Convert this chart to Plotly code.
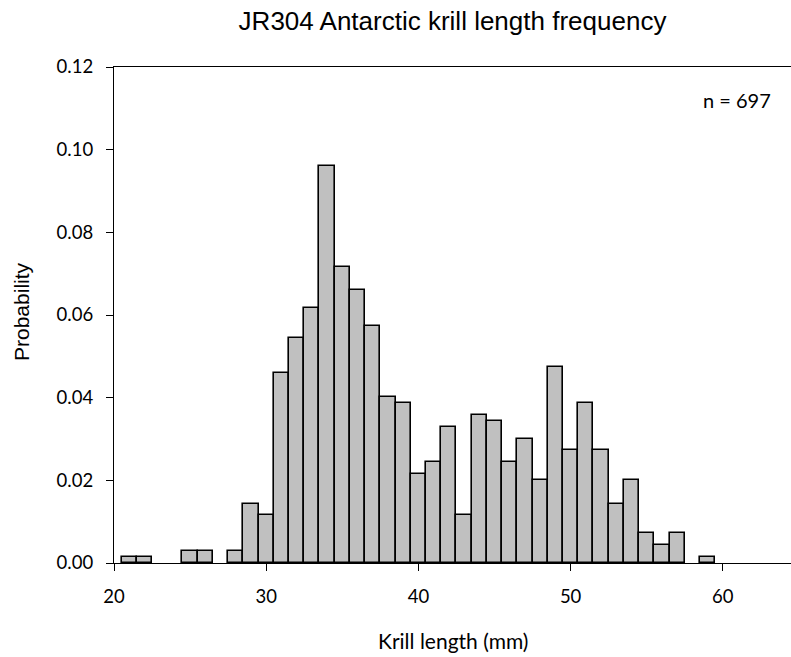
import plotly.graph_objects as go

# Krill length bins (mm, bin centres) and probability (n = 697)
lengths = [21, 22, 25, 26, 28, 29, 30, 31, 32, 33, 34, 35, 36, 37, 38, 39, 40,
           41, 42, 43, 44, 45, 46, 47, 48, 49, 50, 51, 52, 53, 54, 55, 56, 57, 59]
probability = [0.0014, 0.0014, 0.0029, 0.0029, 0.0029, 0.0143, 0.0115, 0.0459,
               0.0545, 0.0617, 0.0961, 0.0717, 0.0660, 0.0574, 0.0402, 0.0387,
               0.0215, 0.0244, 0.0330, 0.0115, 0.0359, 0.0344, 0.0244, 0.0301,
               0.0201, 0.0473, 0.0273, 0.0387, 0.0273, 0.0143, 0.0201, 0.0072,
               0.0043, 0.0072, 0.0014]
x_ticks = [20, 30, 40, 50, 60]
y_ticks = [0.00, 0.02, 0.04, 0.06, 0.08, 0.10, 0.12]
title_text = "JR304 Antarctic krill length frequency"
x_title = "Krill length (mm)"
y_title = "Probability"
n_label = "n = 697"

W, H = 791, 657
L, R, T, B = 114, 0, 67, 94

fig = go.Figure(go.Bar(
    x=lengths, y=probability, width=1,
    marker=dict(color="#c0c0c0", line=dict(color="black", width=1.6)),
))

tickfont = dict(family="Lato", size=18.5, color="black")

fig.update_layout(
    width=W, height=H,
    margin=dict(l=L, r=R, t=T, b=B),
    paper_bgcolor="white", plot_bgcolor="white",
    showlegend=False,
    bargap=0,
    title=dict(text=title_text, x=0.5, xref="paper", xanchor="center",
               y=1 - 21 / H, yref="container", yanchor="middle",
               font=dict(family="Liberation Sans", size=26, color="black")),
    xaxis=dict(range=[20, 64.48], tickvals=x_ticks, ticks="outside", ticklen=7,
               tickwidth=1.3, tickcolor="black", showline=True, linecolor="black",
               linewidth=1.3, mirror=True, showgrid=False, zeroline=False,
               tickfont=tickfont, ticklabelstandoff=10),
    yaxis=dict(range=[0, 0.12], tickvals=y_ticks, tickformat=".2f", ticks="outside",
               ticklen=7, tickwidth=1.3, tickcolor="black", showline=True,
               linecolor="black", linewidth=1.3, showgrid=False, zeroline=False,
               tickfont=tickfont, ticklabelstandoff=9),
    annotations=[
        dict(text=y_title, xref="paper", yref="paper", x=(21 - L) / (W - L - R),
             y=(563 - 312) / (H - T - B), textangle=-90, showarrow=False,
             xanchor="center", yanchor="middle",
             font=dict(family="Liberation Sans", size=21, color="black")),
        dict(text=x_title, xref="paper", yref="paper", x=0.5,
             y=(563 - 640) / (H - T - B), showarrow=False,
             xanchor="center", yanchor="middle",
             font=dict(family="Lato", size=21, color="black")),
        dict(text=n_label, xref="paper", yref="paper", x=(737 - L) / (W - L - R),
             y=(563 - 100) / (H - T - B), showarrow=False,
             xanchor="center", yanchor="middle",
             font=dict(family="Lato", size=20, color="black")),
    ],
)

fig.write_html("out.html")
